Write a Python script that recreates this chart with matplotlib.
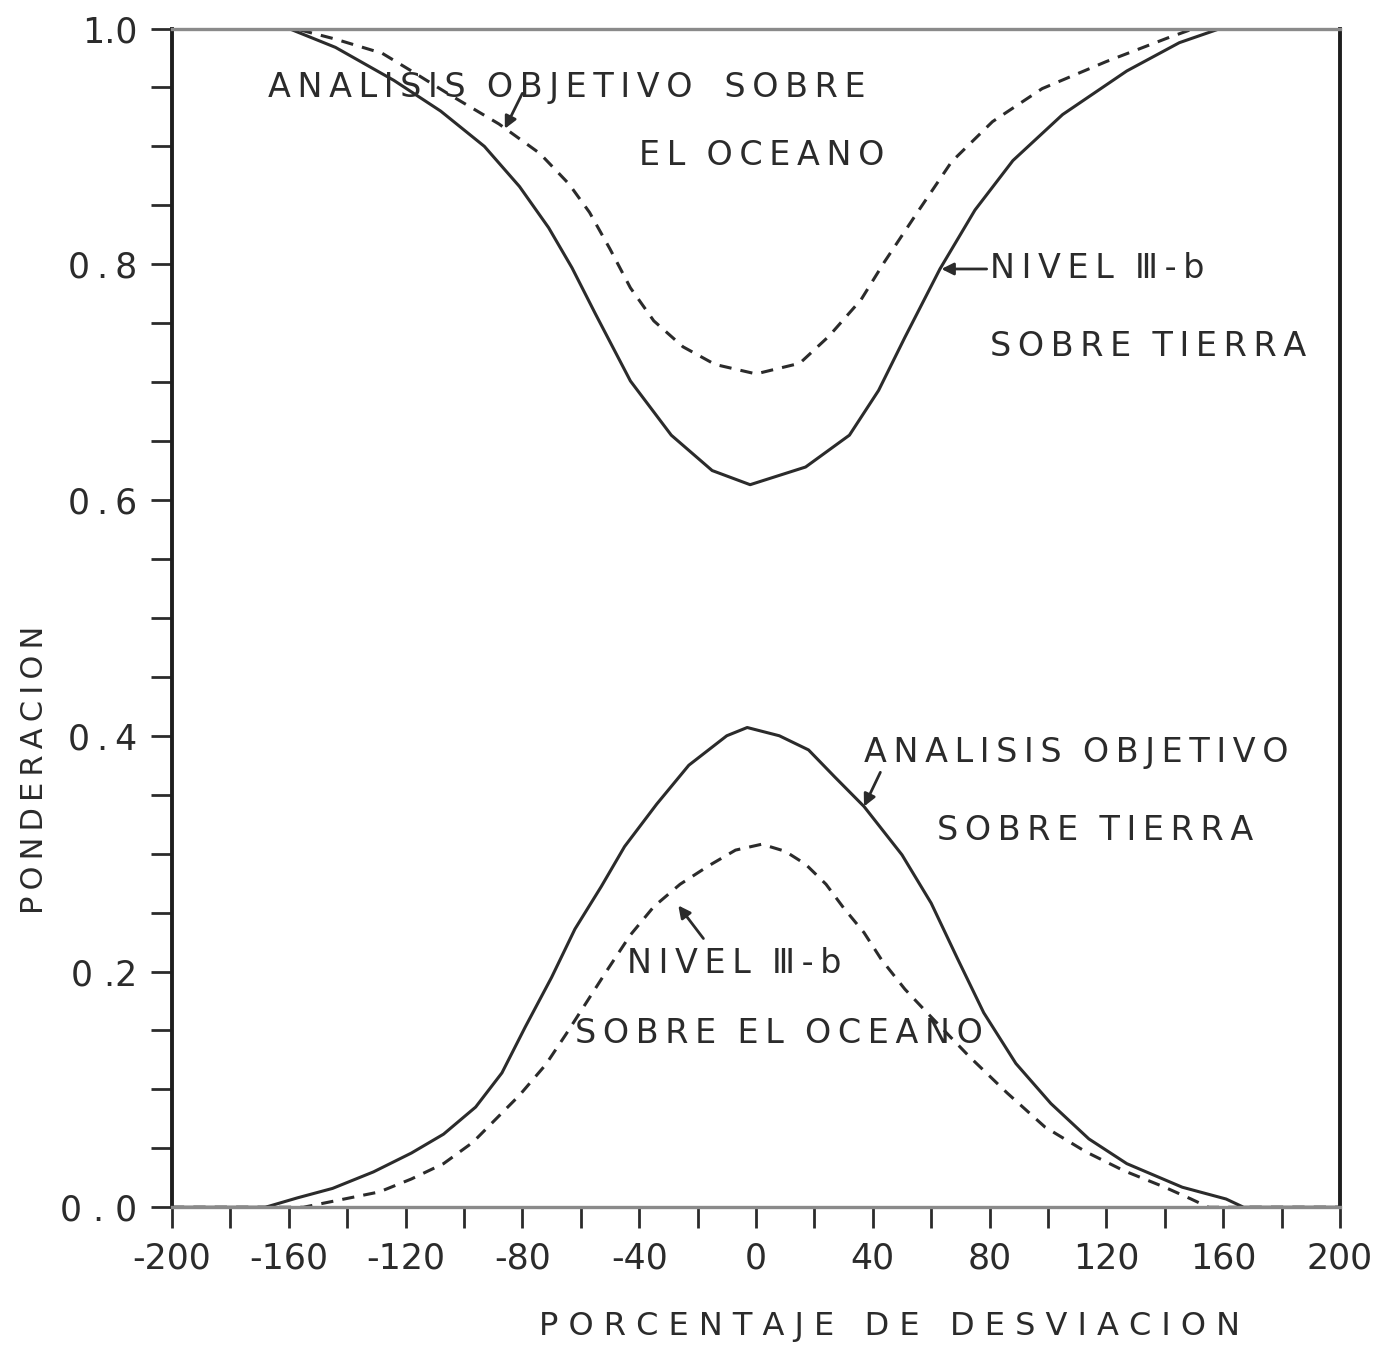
import matplotlib
matplotlib.use('Agg')
import matplotlib.pyplot as plt

# curva superior continua: NIVEL III-b sobre tierra
x_nivel_tierra = [-200, -160, -144, -124, -108, -93, -81, -71, -63, -55, -43, -29, -15, -2,
                  17, 32, 42, 51, 63, 75, 88, 105, 127, 145, 159, 200]
y_nivel_tierra = [1, 1, .984, .956, .930, .900, .866, .831, .797, .758, .701, .655, .625, .613,
                  .628, .655, .693, .738, .796, .846, .888, .927, .964, .988, 1, 1]

# curva superior discontinua: analisis objetivo sobre el oceano
x_obj_oceano = [-200, -158, -144, -128, -118, -105, -88, -74, -64, -57, -50, -43, -35, -25, -14,
                0, 15, 25, 36, 44, 55, 67, 81, 98, 120, 141, 150, 200]
y_obj_oceano = [1, 1, .991, .979, .964, .944, .919, .894, .868, .844, .813, .780, .752, .730, .715,
                .707, .716, .739, .770, .802, .843, .887, .921, .949, .972, .992, 1, 1]

# curva inferior continua: analisis objetivo sobre tierra
x_obj_tierra = [-200, -168, -157, -145, -131, -118, -107, -96, -87, -79, -70, -62, -53, -45, -34,
                -23, -10, -3, 8, 18, 27, 37, 50, 60, 69, 78, 89, 101, 114, 127, 146, 161, 167, 200]
y_obj_tierra = [0, 0, .008, .016, .030, .046, .062, .085, .114, .153, .195, .236, .272, .306, .342,
                .375, .400, .407, .400, .388, .365, .340, .299, .258, .211, .165, .122, .088, .058,
                .037, .017, .007, 0, 0]

# curva inferior discontinua: NIVEL III-b sobre el oceano
x_nivel_oceano = [-200, -155, -141, -129, -118, -107, -97, -89, -81, -72, -65, -58, -51, -43, -35,
                  -26, -16, -7, 2, 10, 17, 24, 30, 37, 43, 51, 59, 73, 86, 99, 113, 126, 140, 149,
                  155, 200]
y_nivel_oceano = [0, 0, .007, .013, .024, .037, .055, .075, .095, .121, .147, .174, .201, .231, .255,
                  .274, .290, .303, .308, .302, .291, .274, .254, .233, .210, .185, .164, .128, .097,
                  .068, .047, .031, .017, .007, 0, 0]

xticks = [-200, -160, -120, -80, -40, 0, 40, 80, 120, 160, 200]
xticklabels = ['-200', '-160', '-120', '-80', '-40', '0', '40', '80', '120', '160', '200']
yticks = [0.0, 0.2, 0.4, 0.6, 0.8, 1.0]
yticklabels = ['0 . 0', '0 .2', '0\u2009.\u20094', '0\u2009.\u20096', '0\u2009.\u20098', '1.0']

ink = '#2b2b2b'
plt.rcParams['font.family'] = ['DejaVu Sans']


def spaced(s, sep='\u2009', gap='  '):
    # letras separadas como en el rotulado original
    return gap.join(sep.join(w) for w in s.split(' '))


fig = plt.figure(figsize=(13.98, 13.58), dpi=100)
ax = fig.add_axes([0.123, 0.111, 0.8355, 0.868])

ax.plot(x_nivel_tierra, y_nivel_tierra, color=ink, lw=2.2)
ax.plot(x_obj_oceano, y_obj_oceano, color=ink, lw=2.2, linestyle=(0, (4, 3)))
ax.plot(x_obj_tierra, y_obj_tierra, color=ink, lw=2.2)
ax.plot(x_nivel_oceano, y_nivel_oceano, color=ink, lw=2.2, linestyle=(0, (4, 3)))

ax.set_xlim(-200, 200)
ax.set_ylim(0, 1.0)
ax.set_xticks(xticks)
ax.set_xticklabels(xticklabels)
ax.set_xticks(range(-180, 200, 40), minor=True)
ax.set_yticks(yticks)
ax.set_yticklabels(yticklabels)
ax.set_yticks([0.05 * i for i in range(1, 20) if i % 4 != 0], minor=True)
ax.tick_params(axis='both', which='both', direction='out', length=15, width=2,
               color=ink, labelsize=25, labelcolor=ink, pad=10)

for side in ['left', 'right']:
    ax.spines[side].set_color('#1e1e1e')
    ax.spines[side].set_linewidth(2.8)
for side in ['top', 'bottom']:
    ax.spines[side].set_color('#8a8a8a')
    ax.spines[side].set_linewidth(2.4)

kw = dict(fontsize=24, color=ink, va='center', ha='left')
ax.text(-167, 0.95, spaced('ANALISIS OBJETIVO') + '   ' + spaced('SOBRE'), **kw)
ax.text(-40, 0.892, spaced('EL OCEANO'), **kw)
ax.text(80, 0.796, spaced('NIVEL Ⅲ-b'), **kw)
ax.text(80, 0.730, spaced('SOBRE TIERRA'), **kw)
ax.text(37, 0.386, spaced('ANALISIS OBJETIVO'), **kw)
ax.text(62, 0.320, spaced('SOBRE TIERRA'), **kw)
ax.text(-44, 0.207, spaced('NIVEL Ⅲ-b'), **kw)
ax.text(-62, 0.147, spaced('SOBRE EL OCEANO'), **kw)

arrow = dict(arrowstyle='-|>', color=ink, lw=2, mutation_scale=18, shrinkA=0, shrinkB=0)
ax.annotate('', xy=(-86, 0.915), xytext=(-80, 0.945), arrowprops=arrow)
ax.annotate('', xy=(63.5, 0.796), xytext=(79, 0.796), arrowprops=arrow)
ax.annotate('', xy=(37, 0.340), xytext=(42.6, 0.369), arrowprops=arrow)
ax.annotate('', xy=(-26.6, 0.256), xytext=(-18, 0.228), arrowprops=arrow)

fig.text(0.636, 0.012, spaced('PORCENTAJE DE DESVIACION', sep=' ', gap='   '), fontsize=23,
         color=ink, ha='center', va='bottom')
fig.text(0.025, 0.433, spaced('PONDERACION'), fontsize=22, color=ink,
         ha='center', va='center', rotation=90)

fig.savefig('out.png', dpi=100, facecolor='white')
